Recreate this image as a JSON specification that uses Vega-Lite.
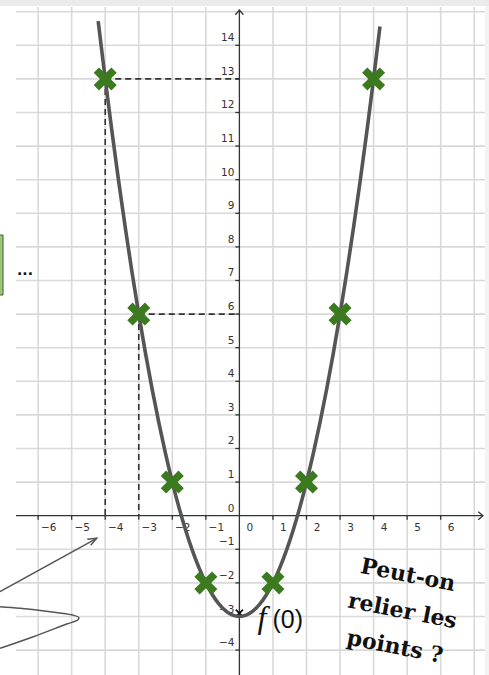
{
  "$schema": "https://vega.github.io/schema/vega-lite/v6.json",
  "width": 489,
  "height": 675,
  "autosize": {"type": "none"},
  "padding": 0,
  "background": "#ffffff",
  "config": {"view": {"stroke": null}},
  "encoding": {
    "x": {"field": "x", "type": "quantitative", "scale": {"domain": [-7.136, 7.44], "nice": false, "zero": false}, "axis": null},
    "y": {"field": "y", "type": "quantitative", "scale": {"domain": [-4.741, 15.348], "nice": false, "zero": false}, "axis": null}
  },
  "layer": [
    {
      "data": {"values": [{"x": -7.136, "x2": 7.44, "y": 15.17, "y2": 15.348}]},
      "mark": {"type": "rect", "color": "#ebebeb"},
      "encoding": {"x2": {"field": "x2"}, "y2": {"field": "y2"}}
    },
    {
      "data": {"values": [{"x": 7.32, "x2": 7.44, "y": -4.741, "y2": 15.17}]},
      "mark": {"type": "rect", "color": "#f3f3f3"},
      "encoding": {"x2": {"field": "x2"}, "y2": {"field": "y2"}}
    },
    {
      "data": {"values": [{"x": -7.2, "x2": -7.046, "y": 6.568, "y2": 8.354}]},
      "mark": {"type": "rect", "fill": "#9cc47c", "stroke": "#46632f", "strokeWidth": 1},
      "encoding": {"x2": {"field": "x2"}, "y2": {"field": "y2"}}
    },
    {
      "data": {"values": [
        {"x": -6, "y": -4.741, "x2": -6, "y2": 15.14}, {"x": -5, "y": -4.741, "x2": -5, "y2": 15.14},
        {"x": -4, "y": -4.741, "x2": -4, "y2": 15.14}, {"x": -3, "y": -4.741, "x2": -3, "y2": 15.14},
        {"x": -2, "y": -4.741, "x2": -2, "y2": 15.14}, {"x": -1, "y": -4.741, "x2": -1, "y2": 15.14},
        {"x": 1, "y": -4.741, "x2": 1, "y2": 15.14}, {"x": 2, "y": -4.741, "x2": 2, "y2": 15.14},
        {"x": 3, "y": -4.741, "x2": 3, "y2": 15.14}, {"x": 4, "y": -4.741, "x2": 4, "y2": 15.14},
        {"x": 5, "y": -4.741, "x2": 5, "y2": 15.14}, {"x": 6, "y": -4.741, "x2": 6, "y2": 15.14},
        {"x": 7, "y": -4.741, "x2": 7, "y2": 15.14},
        {"x": -6.659, "y": -4, "x2": 7.32, "y2": -4}, {"x": -6.659, "y": -3, "x2": 7.32, "y2": -3},
        {"x": -6.659, "y": -2, "x2": 7.32, "y2": -2}, {"x": -6.659, "y": -1, "x2": 7.32, "y2": -1},
        {"x": -6.659, "y": 1, "x2": 7.32, "y2": 1}, {"x": -6.659, "y": 2, "x2": 7.32, "y2": 2},
        {"x": -6.659, "y": 3, "x2": 7.32, "y2": 3}, {"x": -6.659, "y": 4, "x2": 7.32, "y2": 4},
        {"x": -6.659, "y": 5, "x2": 7.32, "y2": 5}, {"x": -6.659, "y": 6, "x2": 7.32, "y2": 6},
        {"x": -6.659, "y": 7, "x2": 7.32, "y2": 7}, {"x": -6.659, "y": 8, "x2": 7.32, "y2": 8},
        {"x": -6.659, "y": 9, "x2": 7.32, "y2": 9}, {"x": -6.659, "y": 10, "x2": 7.32, "y2": 10},
        {"x": -6.659, "y": 11, "x2": 7.32, "y2": 11}, {"x": -6.659, "y": 12, "x2": 7.32, "y2": 12},
        {"x": -6.659, "y": 13, "x2": 7.32, "y2": 13}, {"x": -6.659, "y": 14, "x2": 7.32, "y2": 14},
        {"x": -6.659, "y": 15, "x2": 7.32, "y2": 15}
      ]},
      "mark": {"type": "rule", "color": "#d9d9d9", "strokeWidth": 1.6},
      "encoding": {"x2": {"field": "x2"}, "y2": {"field": "y2"}}
    },
    {
      "data": {"values": [
        {"x": -4, "y": 13, "x2": 0, "y2": 13},
        {"x": -4, "y": 13, "x2": -4, "y2": 0},
        {"x": -3, "y": 6, "x2": 0, "y2": 6},
        {"x": -3, "y": 6, "x2": -3, "y2": 0}
      ]},
      "mark": {"type": "rule", "color": "#333333", "strokeWidth": 1.6, "strokeDash": [6, 4]},
      "encoding": {"x2": {"field": "x2"}, "y2": {"field": "y2"}}
    },
    {
      "data": {"values": [
        {"x": -6.659, "y": 0, "x2": 7.26, "y2": 0},
        {"x": 0, "y": -4.741, "x2": 0, "y2": 15.05}
      ]},
      "mark": {"type": "rule", "color": "#333333", "strokeWidth": 1.3},
      "encoding": {"x2": {"field": "x2"}, "y2": {"field": "y2"}}
    },
    {
      "data": {"values": [
        {"g": "xa", "i": 0, "x": 7.12, "y": 0.12},
        {"g": "xa", "i": 1, "x": 7.26, "y": 0},
        {"g": "xa", "i": 2, "x": 7.12, "y": -0.12},
        {"g": "ya", "i": 0, "x": -0.12, "y": 14.91},
        {"g": "ya", "i": 1, "x": 0, "y": 15.05},
        {"g": "ya", "i": 2, "x": 0.12, "y": 14.91}
      ]},
      "mark": {"type": "line", "color": "#333333", "strokeWidth": 1.3},
      "encoding": {"detail": {"field": "g"}, "order": {"field": "i", "type": "quantitative"}}
    },
    {
      "data": {"values": [
        {"x": -6, "y": 0, "x2": -6, "y2": -0.12}, {"x": -5, "y": 0, "x2": -5, "y2": -0.12},
        {"x": -4, "y": 0, "x2": -4, "y2": -0.12}, {"x": -3, "y": 0, "x2": -3, "y2": -0.12},
        {"x": -2, "y": 0, "x2": -2, "y2": -0.12}, {"x": -1, "y": 0, "x2": -1, "y2": -0.12},
        {"x": 1, "y": 0, "x2": 1, "y2": -0.12}, {"x": 2, "y": 0, "x2": 2, "y2": -0.12},
        {"x": 3, "y": 0, "x2": 3, "y2": -0.12}, {"x": 4, "y": 0, "x2": 4, "y2": -0.12},
        {"x": 5, "y": 0, "x2": 5, "y2": -0.12}, {"x": 6, "y": 0, "x2": 6, "y2": -0.12},
        {"x": 0, "y": -4, "x2": -0.12, "y2": -4}, {"x": 0, "y": -3, "x2": -0.12, "y2": -3},
        {"x": 0, "y": -2, "x2": -0.12, "y2": -2}, {"x": 0, "y": -1, "x2": -0.12, "y2": -1},
        {"x": 0, "y": 1, "x2": -0.12, "y2": 1}, {"x": 0, "y": 2, "x2": -0.12, "y2": 2},
        {"x": 0, "y": 3, "x2": -0.12, "y2": 3}, {"x": 0, "y": 4, "x2": -0.12, "y2": 4},
        {"x": 0, "y": 5, "x2": -0.12, "y2": 5}, {"x": 0, "y": 6, "x2": -0.12, "y2": 6},
        {"x": 0, "y": 7, "x2": -0.12, "y2": 7}, {"x": 0, "y": 8, "x2": -0.12, "y2": 8},
        {"x": 0, "y": 9, "x2": -0.12, "y2": 9}, {"x": 0, "y": 10, "x2": -0.12, "y2": 10},
        {"x": 0, "y": 11, "x2": -0.12, "y2": 11}, {"x": 0, "y": 12, "x2": -0.12, "y2": 12},
        {"x": 0, "y": 13, "x2": -0.12, "y2": 13}, {"x": 0, "y": 14, "x2": -0.12, "y2": 14}
      ]},
      "mark": {"type": "rule", "color": "#333333", "strokeWidth": 1.3},
      "encoding": {"x2": {"field": "x2"}, "y2": {"field": "y2"}}
    },
    {
      "data": {"values": [
        {"x": -6, "y": 0, "label": "−6"}, {"x": -5, "y": 0, "label": "−5"},
        {"x": -4, "y": 0, "label": "−4"}, {"x": -3, "y": 0, "label": "−3"},
        {"x": -2, "y": 0, "label": "−2"}, {"x": -1, "y": 0, "label": "−1"},
        {"x": 0, "y": 0, "label": "0"}, {"x": 1, "y": 0, "label": "1"},
        {"x": 2, "y": 0, "label": "2"}, {"x": 3, "y": 0, "label": "3"},
        {"x": 4, "y": 0, "label": "4"}, {"x": 5, "y": 0, "label": "5"},
        {"x": 6, "y": 0, "label": "6"}
      ]},
      "mark": {"type": "text", "font": "DejaVu Sans", "fontSize": 10.5, "color": "#333333", "align": "center", "baseline": "middle", "dx": 10.5, "dy": 12.5},
      "encoding": {"text": {"field": "label"}}
    },
    {
      "data": {"values": [
        {"x": 0, "y": -4, "label": "−4"}, {"x": 0, "y": -3, "label": "−3"},
        {"x": 0, "y": -2, "label": "−2"}, {"x": 0, "y": -1, "label": "−1"},
        {"x": 0, "y": 0, "label": "0"}, {"x": 0, "y": 1, "label": "1"},
        {"x": 0, "y": 2, "label": "2"}, {"x": 0, "y": 3, "label": "3"},
        {"x": 0, "y": 4, "label": "4"}, {"x": 0, "y": 5, "label": "5"},
        {"x": 0, "y": 6, "label": "6"}, {"x": 0, "y": 7, "label": "7"},
        {"x": 0, "y": 8, "label": "8"}, {"x": 0, "y": 9, "label": "9"},
        {"x": 0, "y": 10, "label": "10"}, {"x": 0, "y": 11, "label": "11"},
        {"x": 0, "y": 12, "label": "12"}, {"x": 0, "y": 13, "label": "13"},
        {"x": 0, "y": 14, "label": "14"}
      ]},
      "mark": {"type": "text", "font": "DejaVu Sans", "fontSize": 10.5, "color": "#333333", "align": "right", "baseline": "middle", "dx": -5, "dy": -7},
      "encoding": {"text": {"field": "label"}}
    },
    {
      "data": {"values": [
        {"i": 0, "x": -7.136, "y": -3.946},
        {"i": 1, "x": -6.143, "y": -3.601},
        {"i": 2, "x": -5.147, "y": -3.223},
        {"i": 3, "x": -4.81, "y": -3.1},
        {"i": 4, "x": -4.79, "y": -3.03},
        {"i": 5, "x": -5.0, "y": -2.95},
        {"i": 6, "x": -5.645, "y": -2.857},
        {"i": 7, "x": -6.54, "y": -2.756},
        {"i": 8, "x": -7.136, "y": -2.708}
      ]},
      "mark": {"type": "line", "color": "#555555", "strokeWidth": 1.5, "interpolate": "catmull-rom"},
      "encoding": {"order": {"field": "i", "type": "quantitative"}}
    },
    {
      "data": {"values": [
        {"g": "shaft", "i": 0, "x": -7.136, "y": -2.262},
        {"g": "shaft", "i": 1, "x": -4.253, "y": -0.673},
        {"g": "head", "i": 0, "x": -4.534, "y": -0.702},
        {"g": "head", "i": 1, "x": -4.253, "y": -0.673},
        {"g": "head", "i": 2, "x": -4.432, "y": -0.881}
      ]},
      "mark": {"type": "line", "color": "#555555", "strokeWidth": 1.5},
      "encoding": {"detail": {"field": "g"}, "order": {"field": "i", "type": "quantitative"}}
    },
    {
      "data": {"values": [{"x": 0, "y": -2.9}]},
      "mark": {"type": "point", "shape": "M -1 -0.7 L -0.7 -1 L 0 -0.3 L 0.7 -1 L 1 -0.7 L 0.3 0 L 1 0.7 L 0.7 1 L 0 0.3 L -0.7 1 L -1 0.7 L -0.3 0 Z", "size": 70, "filled": true, "color": "#111111", "opacity": 1},
      "encoding": {}
    },
    {
      "data": {"values": [
        {"x": -4.21, "y": 14.72}, {"x": -4.0, "y": 13}, {"x": -3.8, "y": 11.44}, {"x": -3.6, "y": 9.96},
        {"x": -3.4, "y": 8.56}, {"x": -3.2, "y": 7.24}, {"x": -3.0, "y": 6}, {"x": -2.8, "y": 4.84},
        {"x": -2.6, "y": 3.76}, {"x": -2.4, "y": 2.76}, {"x": -2.2, "y": 1.84}, {"x": -2.0, "y": 1},
        {"x": -1.8, "y": 0.24}, {"x": -1.6, "y": -0.44}, {"x": -1.4, "y": -1.04}, {"x": -1.2, "y": -1.56},
        {"x": -1.0, "y": -2}, {"x": -0.8, "y": -2.36}, {"x": -0.6, "y": -2.64}, {"x": -0.4, "y": -2.84},
        {"x": -0.2, "y": -2.96}, {"x": 0, "y": -3}, {"x": 0.2, "y": -2.96}, {"x": 0.4, "y": -2.84},
        {"x": 0.6, "y": -2.64}, {"x": 0.8, "y": -2.36}, {"x": 1.0, "y": -2}, {"x": 1.2, "y": -1.56},
        {"x": 1.4, "y": -1.04}, {"x": 1.6, "y": -0.44}, {"x": 1.8, "y": 0.24}, {"x": 2.0, "y": 1},
        {"x": 2.2, "y": 1.84}, {"x": 2.4, "y": 2.76}, {"x": 2.6, "y": 3.76}, {"x": 2.8, "y": 4.84},
        {"x": 3.0, "y": 6}, {"x": 3.2, "y": 7.24}, {"x": 3.4, "y": 8.56}, {"x": 3.6, "y": 9.96},
        {"x": 3.8, "y": 11.44}, {"x": 4.0, "y": 13}, {"x": 4.19, "y": 14.56}
      ]},
      "mark": {"type": "line", "color": "#555555", "strokeWidth": 3.6, "interpolate": "monotone", "strokeCap": "butt"},
      "encoding": {}
    },
    {
      "data": {"values": [
        {"x": -4, "y": 13}, {"x": -3, "y": 6}, {"x": -2, "y": 1}, {"x": -1, "y": -2},
        {"x": 1, "y": -2}, {"x": 2, "y": 1}, {"x": 3, "y": 6}, {"x": 4, "y": 13}
      ]},
      "mark": {"type": "point", "shape": "M -1 -0.54 L -0.54 -1 L 0 -0.46 L 0.54 -1 L 1 -0.54 L 0.46 0 L 1 0.54 L 0.54 1 L 0 0.46 L -0.54 1 L -1 0.54 L -0.46 0 Z", "size": 530, "filled": true, "color": "#3b7a1f", "opacity": 1},
      "encoding": {}
    },
    {
      "data": {"values": [{"x": 0.674, "y": -3.351, "t": "f"}]},
      "mark": {"type": "text", "font": "Liberation Serif", "fontStyle": "italic", "fontSize": 32, "color": "#111111", "align": "center", "baseline": "alphabetic"},
      "encoding": {"text": {"field": "t"}}
    },
    {
      "data": {"values": [{"x": 0.985, "y": -3.351, "t": "(0)"}]},
      "mark": {"type": "text", "font": "Liberation Sans", "fontSize": 25, "color": "#111111", "align": "left", "baseline": "alphabetic"},
      "encoding": {"text": {"field": "t"}}
    },
    {
      "data": {"values": [
        {"x": 5.025, "y": -1.765, "t": "Peut-on"},
        {"x": 4.861, "y": -2.836, "t": "relier les"},
        {"x": 4.638, "y": -3.899, "t": "points ?"}
      ]},
      "mark": {"type": "text", "font": "DejaVu Serif", "fontWeight": "bold", "fontSize": 22, "color": "#111111", "align": "center", "baseline": "middle", "angle": 11},
      "encoding": {"text": {"field": "t"}}
    },
    {
      "data": {"values": [{"x": -6.39, "y": 7.22, "t": "..."}]},
      "mark": {"type": "text", "font": "DejaVu Sans", "fontWeight": "bold", "fontSize": 14, "color": "#111111", "align": "center", "baseline": "alphabetic", "dy": 2},
      "encoding": {"text": {"field": "t"}}
    }
  ]
}
